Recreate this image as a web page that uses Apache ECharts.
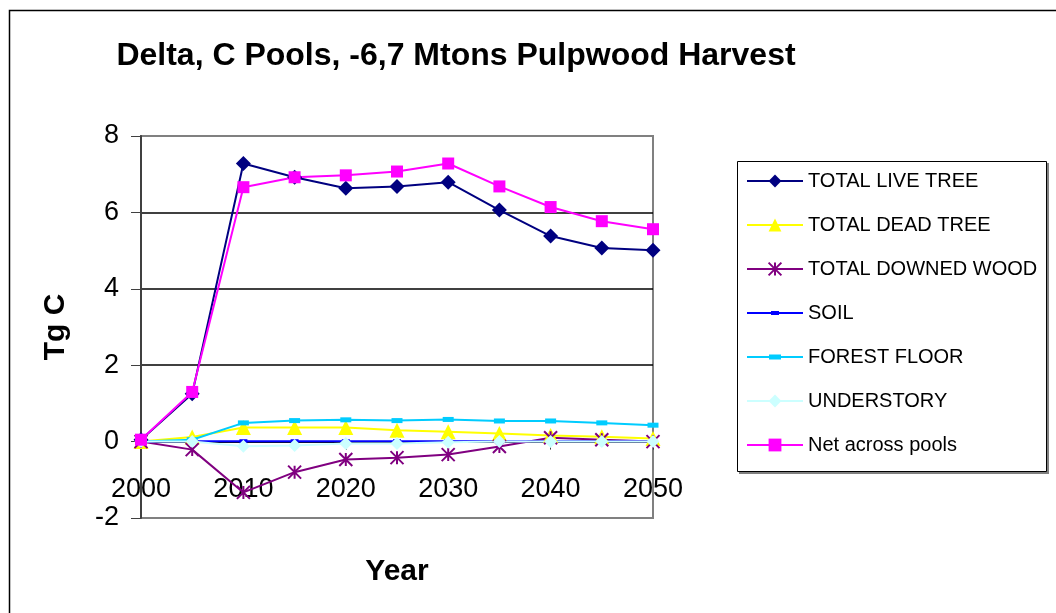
<!DOCTYPE html>
<html>
<head>
<meta charset="utf-8">
<script src="https://cdn.jsdelivr.net/npm/echarts@6/dist/echarts.min.js"></script>
<style>
  html, body { margin: 0; padding: 0; background: #fff; }
  #chart { width: 1056px; height: 613px; }
</style>
</head>
<body>
<div id="chart"></div>
<script>
// years on the x axis
const years = [2000, 2005, 2010, 2015, 2020, 2025, 2030, 2035, 2040, 2045, 2050]

// series values, Tg C
const liveTree   = [0.05, 1.25, 7.28, 6.92, 6.63, 6.68, 6.79, 6.06, 5.38, 5.07, 5.01]
const deadTree   = [0.0, 0.12, 0.37, 0.37, 0.37, 0.30, 0.26, 0.21, 0.16, 0.13, 0.08]
const downedWood = [0.0, -0.21, -1.33, -0.80, -0.47, -0.42, -0.34, -0.13, 0.10, 0.05, 0.0]
const soil       = [0.0, 0.01, 0.01, 0.01, 0.01, 0.01, 0.01, 0.01, 0.01, 0.01, 0.01]
const forestFloor= [0.0, 0.05, 0.49, 0.55, 0.57, 0.55, 0.58, 0.54, 0.54, 0.49, 0.43]
const understory = [0.0, 0.0, -0.12, -0.10, -0.05, -0.05, -0.02, 0.0, 0.0, 0.0, 0.0]
const netPools   = [0.05, 1.30, 6.66, 6.92, 6.97, 7.07, 7.28, 6.68, 6.14, 5.77, 5.56]

// tick labels
const yTicks = [-2, 0, 2, 4, 6, 8]
const xTicks = [2000, 2010, 2020, 2030, 2040, 2050]

const FONT = 'Liberation Sans, Arial, sans-serif'

// plot area in pixels
const gridTop = 136
const gridBottom = 518

function pairs(values){
  return years.map((y, i) => [y, values[i]])
}

function makeSeries(name, values, color, symbol, size, extra){
  return Object.assign({
    name: name,
    type: 'line',
    data: pairs(values),
    symbol: symbol,
    symbolSize: size,
    lineStyle: { color: color, width: 2 },
    itemStyle: { color: color },
    emphasis: { disabled: true }
  }, extra || {})
}

// legend icons for the two dash-marker series: line + small bar, drawn in a 56x16 box
const soilIcon = 'path://M0,0L0,0M0,7L56,7L56,9L0,9ZM24,6L32,6L32,10L24,10ZM56,16L56,16'
const floorIcon = 'path://M0,0L0,0M0,7L56,7L56,9L0,9ZM22,5.5L34,5.5L34,10.5L22,10.5ZM56,16L56,16'

// the x axis sits on y = 0, so pull it up from the bottom of the plot
const yMin = yTicks[0]
const yMax = yTicks[yTicks.length - 1]
const zeroOffset = -(gridBottom - gridTop) * (0 - yMin) / (yMax - yMin)

const chart = echarts.init(document.getElementById('chart'))

const option = {
  animation: false,
  backgroundColor: '#fff',
  title: {
    text: 'Delta, C Pools, -6,7 Mtons Pulpwood Harvest',
    left: 451,
    top: 35,
    textAlign: 'center',
    textStyle: { fontFamily: FONT, fontSize: 32, fontWeight: 'bold', color: '#000' }
  },
  graphic: [
    // outer chart frame
    { type: 'rect', shape: { x: 9.5, y: 10.5, width: 1100, height: 700 },
      style: { fill: 'none', stroke: '#000', lineWidth: 1.5 }, silent: true },
    // legend box (shadow + box)
    { type: 'rect', shape: { x: 739, y: 163, width: 310, height: 311 },
      style: { fill: '#808080', stroke: 'none' }, silent: true, z: -1 },
    { type: 'rect', shape: { x: 737.5, y: 161.5, width: 309, height: 310 },
      style: { fill: '#fff', stroke: '#000', lineWidth: 1 }, silent: true, z: 0 },
    // axis titles
    { type: 'text', x: 56, y: 327, rotation: Math.PI / 2,
      style: { text: 'Tg C', fontFamily: FONT, fontSize: 30, fontWeight: 'bold', fill: '#000',
               align: 'center', verticalAlign: 'middle' } },
    { type: 'text', x: 397, y: 572,
      style: { text: 'Year', fontFamily: FONT, fontSize: 30, fontWeight: 'bold', fill: '#000',
               align: 'center', verticalAlign: 'middle' } }
  ],
  legend: {
    orient: 'vertical',
    left: 746,
    top: 170,
    itemWidth: 56,
    itemHeight: 16,
    itemGap: 22,
    padding: 0,
    textStyle: { fontFamily: FONT, fontSize: 20, color: '#000', lineHeight: 22 },
    selectedMode: false,
    data: [
      'TOTAL LIVE TREE',
      'TOTAL DEAD TREE',
      'TOTAL DOWNED WOOD',
      { name: 'SOIL', icon: soilIcon },
      { name: 'FOREST FLOOR', icon: floorIcon },
      'UNDERSTORY',
      'Net across pools'
    ]
  },
  grid: {
    left: 141,
    top: gridTop,
    right: 403,
    bottom: 613 - gridBottom,
    show: true,
    backgroundColor: '#fff',
    borderColor: '#808080',
    borderWidth: 2
  },
  xAxis: {
    type: 'value',
    position: 'bottom',
    offset: zeroOffset,
    min: xTicks[0],
    max: xTicks[xTicks.length - 1],
    interval: 10,
    splitLine: { show: false },
    axisLine: { show: true, onZero: false, lineStyle: { color: '#000', width: 1.5 } },
    axisTick: { show: true, length: 8, lineStyle: { color: '#404040' } },
    axisLabel: {
      fontFamily: FONT, fontSize: 27, color: '#000', margin: 34,
      formatter: (v) => String(v)
    }
  },
  yAxis: {
    type: 'value',
    min: yMin,
    max: yMax,
    interval: 2,
    axisLine: { show: true, onZero: false, lineStyle: { color: '#404040', width: 2 } },
    axisTick: { show: true, length: 10, lineStyle: { color: '#404040' } },
    axisLabel: { fontFamily: FONT, fontSize: 27, color: '#000', margin: 22 },
    splitLine: { show: true, lineStyle: { color: ['#808080', '#000', '#000', '#000', '#000', '#808080'], width: 1.5 } }
  },
  series: [
    makeSeries('TOTAL LIVE TREE', liveTree, '#000080', 'diamond', 15),
    makeSeries('TOTAL DEAD TREE', deadTree, '#FFFF00', 'triangle', 15),
    makeSeries('TOTAL DOWNED WOOD', downedWood, '#800080',
      'path://M0,0L10,10M10,0L0,10M5,0L5,10', 13,
      { itemStyle: { color: '#800080', borderColor: '#800080', borderWidth: 2 } }),
    makeSeries('SOIL', soil, '#0000FF', 'rect', [8, 4]),
    makeSeries('FOREST FLOOR', forestFloor, '#00CCFF', 'rect', [11, 5]),
    makeSeries('UNDERSTORY', understory, '#CCFFFF', 'diamond', 13),
    makeSeries('Net across pools', netPools, '#FF00FF', 'rect', 12)
  ]
}

chart.setOption(option)
</script>
</body>
</html>
